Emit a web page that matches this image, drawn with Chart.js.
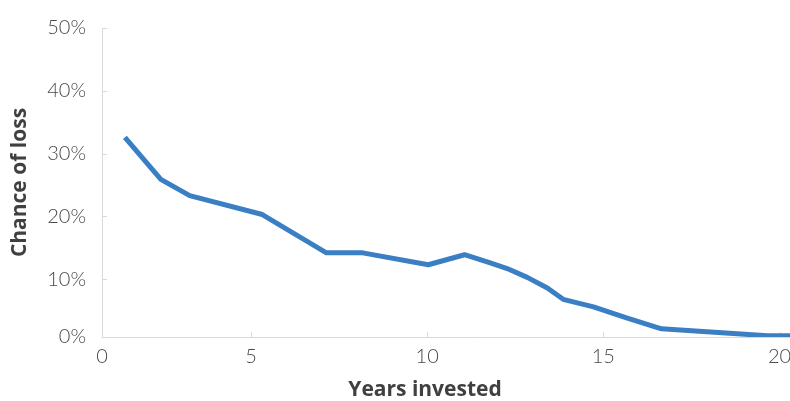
<!DOCTYPE html>
<html>
<head>
<meta charset="utf-8">
<script src="https://cdn.jsdelivr.net/npm/chart.js@4.4.1/dist/chart.umd.min.js"></script>
<style>
    html, body { margin: 0; padding: 0; background: #ffffff; overflow: hidden; }
    #wrap { position: relative; width: 856px; height: 401px; }
</style>
</head>
<body>
<div id="wrap"><canvas id="chart-loss"></canvas></div>
<script>
// ─────────────────────────────────────────────────────────────────────────────
// Chance of loss vs. years invested
// ─────────────────────────────────────────────────────────────────────────────

const years  = [1.42, 2.44, 3.26, 5.32, 7.14, 8.17, 10.03, 11.06, 11.79, 12.27, 12.84, 13.41, 13.86, 14.72, 15.68, 16.65, 19.66, 20.4];
const chance = [32.6, 25.9, 23.3, 20.3, 14.2, 14.2, 12.3, 13.9, 12.6, 11.7, 10.3, 8.6, 6.8, 5.6, 3.8, 2.1, 1.0, 1.0];

const xTickValues = [0, 5, 10, 15, 20];
const xTickLabels = ['0', '5', '10', '15', '20'];
const yTickValues = [0, 10, 20, 30, 40, 50];
const yTickLabels = ['0%', '10%', '20%', '30%', '40%', '50%'];

const AXIS_COLOR  = '#d9d9d9';
const TICK_COLOR  = '#4a4a4a';
const TITLE_COLOR = '#404040';
const LINE_COLOR  = '#3a7fc3';

const TICK_FONT  = { family: 'Lato', size: 20, weight: 300 };
const TITLE_FONT = { family: "'Open Sans'", size: 21, weight: 'bold', lineHeight: 1 };

// Marcas cortas hacia dentro del área del gráfico (estilo Excel)
const innerTicksPlugin = {
    id: 'innerTicks',
    beforeDatasetsDraw(chart) {
        const { ctx, chartArea, scales } = chart;
        ctx.save();
        ctx.strokeStyle = AXIS_COLOR;
        ctx.lineWidth   = 1;
        ctx.beginPath();
        scales.x.ticks.forEach(t => {
            if (t.value <= scales.x.min) return;
            const x = Math.round(scales.x.getPixelForValue(t.value)) + 0.5;
            ctx.moveTo(x, chartArea.bottom);
            ctx.lineTo(x, chartArea.bottom - 5);
        });
        scales.y.ticks.forEach(t => {
            if (t.value <= scales.y.min) return;
            const y = Math.round(scales.y.getPixelForValue(t.value)) + 0.5;
            ctx.moveTo(chartArea.left, y);
            ctx.lineTo(chartArea.left + 5, y);
        });
        ctx.stroke();
        ctx.restore();
    }
};

new Chart(document.getElementById('chart-loss').getContext('2d'), {
    type: 'line',
    plugins: [innerTicksPlugin],
    data: {
        datasets: [{
            data: years.map((x, i) => ({ x, y: chance[i] })),
            borderColor: LINE_COLOR,
            borderWidth: 5,
            borderJoinStyle: 'round',
            borderCapStyle: 'butt',
            pointRadius: 0,
            tension: 0,
            fill: false
        }]
    },
    options: {
        responsive: true,
        maintainAspectRatio: false,
        animation: false,
        layout: { padding: { top: 24, right: 6, bottom: 0, left: 0 } },
        plugins: {
            legend:  { display: false },
            tooltip: { enabled: false },
            title: {
                display: true,
                position: 'bottom',
                text: 'Years invested',
                color: TITLE_COLOR,
                font: TITLE_FONT,
                padding: { top: 3, bottom: 0 }
            }
        },
        scales: {
            x: {
                type: 'linear',
                min: 0.77,
                max: 22,
                afterBuildTicks(scale) {
                    scale.ticks = xTickValues.map(v => ({ value: Math.max(v, scale.min) }));
                },
                afterFit(scale) { scale.height = 40; },
                grid:   { display: false, drawTicks: false },
                border: { display: true, color: AXIS_COLOR, width: 1 },
                ticks: {
                    autoSkip: false,
                    maxRotation: 0,
                    padding: 8,
                    color: TICK_COLOR,
                    font: TICK_FONT,
                    callback: (v, i) => xTickLabels[i]
                }
            },
            y: {
                min: 0.8,
                max: 50,
                afterBuildTicks(scale) {
                    scale.ticks = yTickValues.map(v => ({ value: Math.max(v, scale.min) }));
                },
                afterFit(scale) { scale.width = 102; },
                grid:   { display: false, drawTicks: false },
                border: { display: true, color: AXIS_COLOR, width: 1 },
                title: {
                    display: true,
                    text: 'Chance of loss',
                    color: TITLE_COLOR,
                    font: { ...TITLE_FONT, lineHeight: 1.2 },
                    padding: { top: 7, bottom: 0 }
                },
                ticks: {
                    autoSkip: false,
                    padding: 16,
                    color: TICK_COLOR,
                    font: TICK_FONT,
                    callback: (v, i) => yTickLabels[i]
                }
            }
        }
    }
});
</script>
</body>
</html>
